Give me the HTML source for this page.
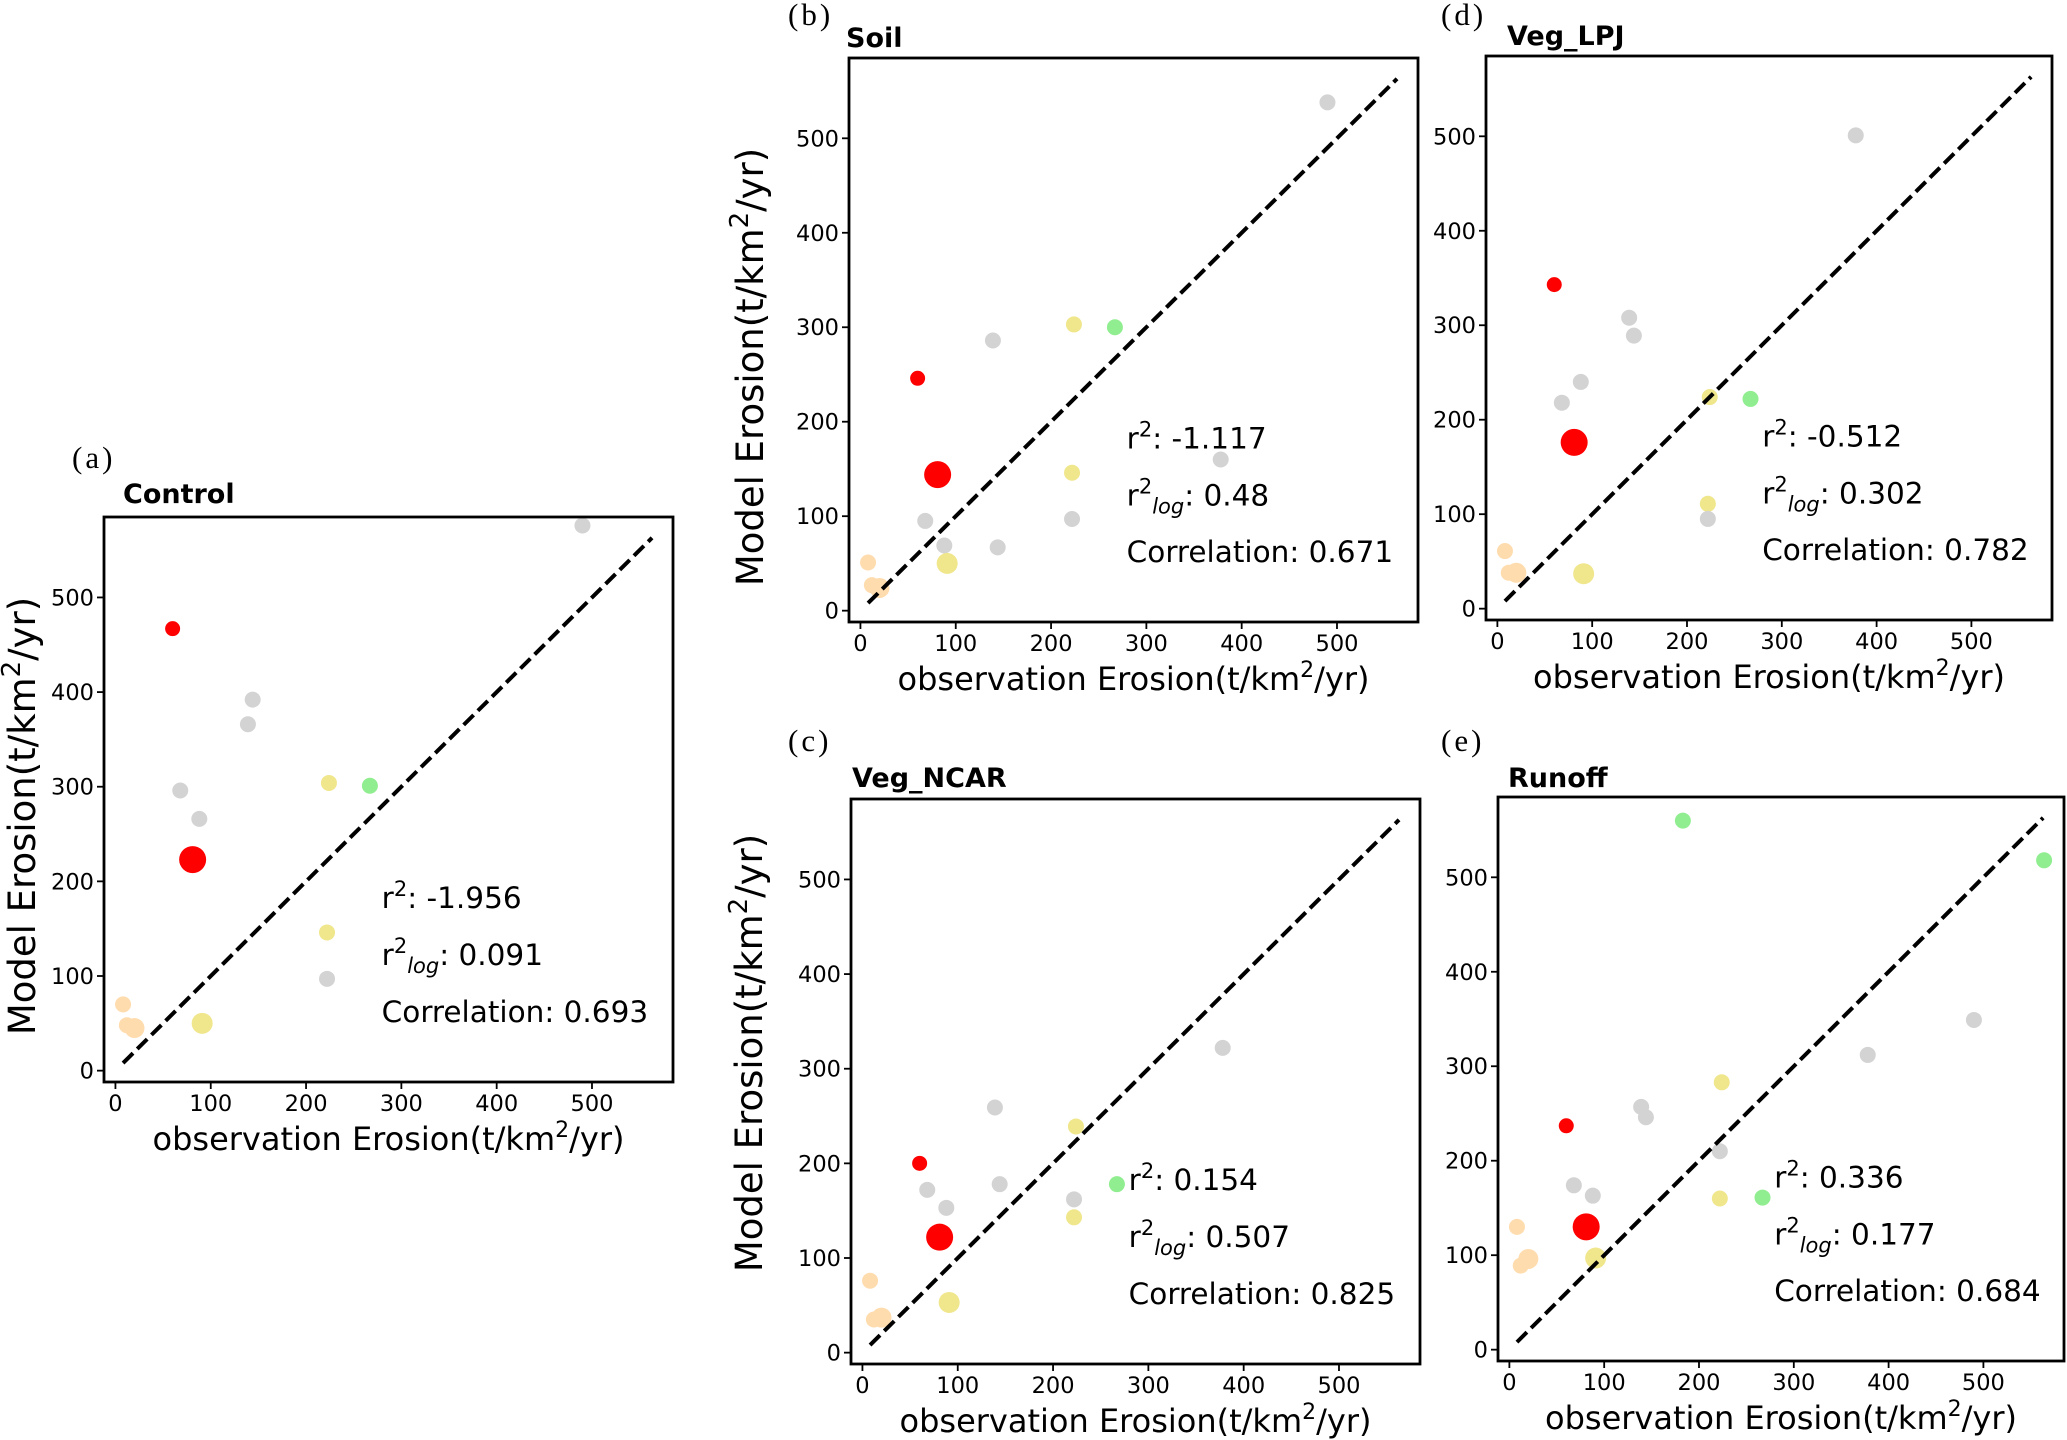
<!DOCTYPE html>
<html><head><meta charset="utf-8">
<style>
html,body{margin:0;padding:0;background:#fff;}
svg{display:block;font-family:"DejaVu Sans","Liberation Sans",sans-serif;}
</style></head>
<body>
<svg id="fig" width="2067" height="1440" viewBox="0 0 2067 1440" xmlns="http://www.w3.org/2000/svg"></svg>
<script>
const siteX = [8,12,20,60,68,81,88,91,139,144,222,222,224,267,378,490,183,564];
const siteColor = ["#ffdcae","#ffdcae","#ffdcae","#ff0000","#d3d3d3","#ff0000","#d3d3d3","#f0e68c","#d3d3d3","#d3d3d3","#f0e68c","#d3d3d3","#f0e68c","#90ee90","#d3d3d3","#d3d3d3","#90ee90","#90ee90"];
const siteR = [8,8,10,7.5,8,13.5,8,10.5,8,8,8,8,8,8,8,8,8,8];
const yControl = [70,48,45,467,296,223,266,50,366,392,146,97,304,301,null,576,null,null];
const ySoil = [51,27,24,246,95,144,69,50,286,67,146,97,303,300,160,538,null,null];
const yVegNCAR = [76,35,37,200,172,122,153,53,259,178,143,162,239,178,322,null,null,null];
const yVegLPJ = [61,38,38,343,218,176,240,37,308,289,111,95,224,222,501,null,null,null];
const yRunoff = [130,89,96,237,174,130,163,97,257,246,160,210,283,161,312,349,560,518];
const tickValues = [0,100,200,300,400,500];
const statR2 = ["-1.956","-1.117","0.154","-0.512","0.336"];
const statR2log = ["0.091","0.48","0.507","0.302","0.177"];
const statCorr = ["0.693","0.671","0.825","0.782","0.684"];
const panelTitles = ["Control","Soil","Veg_NCAR","Veg_LPJ","Runoff"];
const panelLetters = ["(a)","(b)","(c)","(d)","(e)"];

const NS = "http://www.w3.org/2000/svg";
const svg = document.getElementById("fig");
function mk(tag, attrs, parent, text){
  const e = document.createElementNS(NS, tag);
  for (const k in attrs) e.setAttribute(k, attrs[k]);
  if (text !== undefined) e.textContent = text;
  (parent||svg).appendChild(e);
  return e;
}
const LIM = [-12, 585];
const panels = [
  {key:"control", ys:yControl, L:104,T:517,R:673,B:1082, lx:72,ly:468, tx:123,ty:503, ylab:{x:35,y:816}},
  {key:"soil", ys:ySoil, L:849,T:58,R:1418,B:622, lx:788,ly:25, tx:846,ty:47, ylab:{x:763,y:367}},
  {key:"veg-ncar", ys:yVegNCAR, L:851,T:799,R:1420,B:1364, lx:788,ly:751, tx:852,ty:787, ylab:{x:762,y:1053}},
  {key:"veg-lpj", ys:yVegLPJ, L:1486,T:56,R:2052,B:620, lx:1441,ly:25, tx:1507,ty:45, ylab:null},
  {key:"runoff", ys:yRunoff, L:1498,T:797,R:2064,B:1361, lx:1441,ly:751, tx:1508,ty:787, ylab:null}
];

panels.forEach((p, pi) => {
  const g = mk("g", {});
  
  
  const sx = v => p.L + (v - LIM[0]) / (LIM[1] - LIM[0]) * (p.R - p.L);
  const sy = v => p.B - (v - LIM[0]) / (LIM[1] - LIM[0]) * (p.B - p.T);

  const lab = mk("text", {x:p.lx, y:p.ly, "font-family":"Liberation Serif, serif", "font-size":31, "letter-spacing":"3", fill:"#000"}, g, panelLetters[pi]);
  
  
  const tt = mk("text", {x:p.tx, y:p.ty, "font-size":27, "font-weight":"bold", fill:"#000"}, g, panelTitles[pi]);
  
  

  p.ys.forEach((yv, i) => {
    if (yv === null) return;
    const c = mk("circle", {cx:sx(siteX[i]), cy:sy(yv), r:siteR[i], fill:siteColor[i]}, g);
    
    
  });

  const ln = mk("line", {x1:sx(8), y1:sy(8), x2:sx(563), y2:sy(563), stroke:"#000", "stroke-width":4, "stroke-dasharray":"14,6"}, g);
  
  

  const fr = mk("rect", {x:p.L, y:p.T, width:p.R-p.L, height:p.B-p.T, fill:"none", stroke:"#000", "stroke-width":2.8}, g);
  
  

  tickValues.forEach(t => {
    const X = sx(t), Y = sy(t);
    mk("line", {x1:X, y1:p.B, x2:X, y2:p.B+7, stroke:"#000", "stroke-width":1.8}, g);
    const xt = mk("text", {x:X, y:p.B+29, "font-size":22.5, "text-anchor":"middle", fill:"#000"}, g, String(t));
    
    
    mk("line", {x1:p.L-7, y1:Y, x2:p.L, y2:Y, stroke:"#000", "stroke-width":1.8}, g);
    const yt = mk("text", {x:p.L-10, y:Y+8, "font-size":22.5, "text-anchor":"end", fill:"#000"}, g, String(t));
    
    
  });

  const xl = mk("text", {x:(p.L+p.R)/2, y:p.B+68, "font-size":32, "text-anchor":"middle", fill:"#000"}, g);
  
  
  mk("tspan", {}, xl, "observation Erosion(t/km");
  mk("tspan", {dy:-13, "font-size":22}, xl, "2");
  mk("tspan", {dy:13}, xl, "/yr)");

  if (p.ylab) {
    const yl = mk("text", {x:0, y:0, "font-size":37, "text-anchor":"middle", fill:"#000",
      transform:"translate(" + p.ylab.x + "," + p.ylab.y + ") rotate(-90)"}, g);
    
    
    mk("tspan", {}, yl, "Model Erosion(t/km");
    mk("tspan", {dy:-15, "font-size":26}, yl, "2");
    mk("tspan", {dy:15}, yl, "/yr)");
  }

  const stx = p.L + 0.488 * (p.R - p.L);
  const H = p.B - p.T;
  const s1 = mk("text", {x:stx, y:p.T+0.692*H, "font-size":29.5, fill:"#000"}, g);
  
  
  mk("tspan", {}, s1, "r");
  mk("tspan", {dy:-12, "font-size":21}, s1, "2");
  mk("tspan", {dy:12}, s1, ": " + statR2[pi]);

  const s2 = mk("text", {x:stx, y:p.T+0.793*H, "font-size":29.5, fill:"#000"}, g);
  
  
  mk("tspan", {}, s2, "r");
  mk("tspan", {dy:-12, "font-size":21}, s2, "2");
  mk("tspan", {dy:20, "font-size":21, "font-style":"italic"}, s2, "log");
  mk("tspan", {dy:-8}, s2, ": " + statR2log[pi]);

  const s3 = mk("text", {x:stx, y:p.T+0.894*H, "font-size":29.5, fill:"#000"}, g, "Correlation: " + statCorr[pi]);
  
  
});
</script>
</body></html>
